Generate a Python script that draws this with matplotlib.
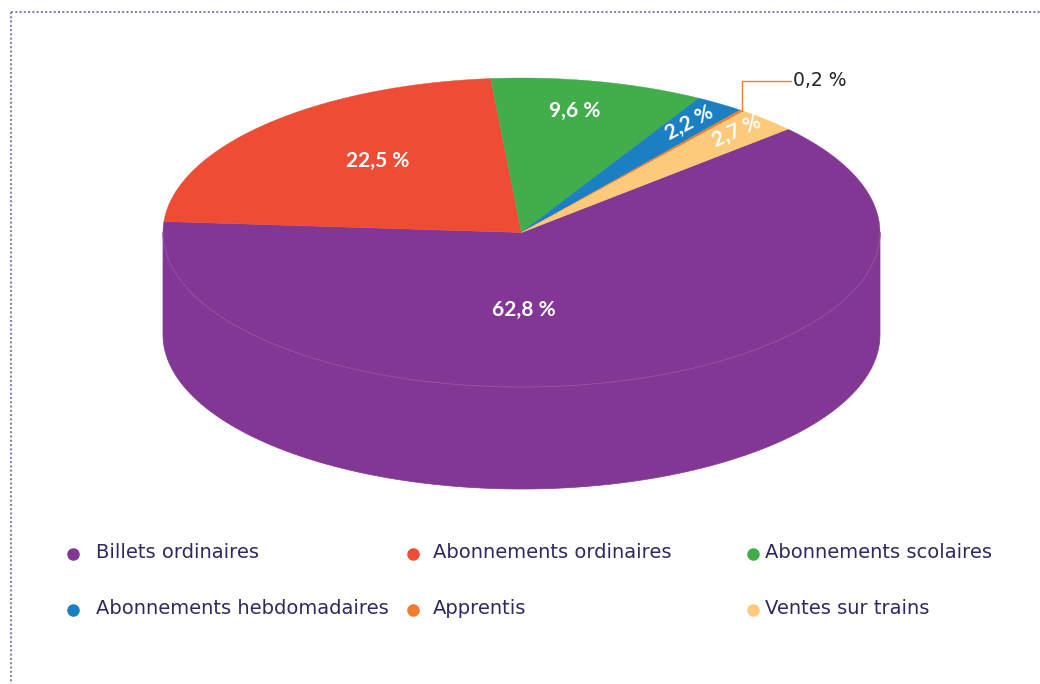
import numpy as np
import matplotlib as mpl
mpl.use('Agg')
import matplotlib.pyplot as plt
from matplotlib.patches import Polygon

categories = ['Billets ordinaires', 'Abonnements ordinaires', 'Abonnements scolaires',
              'Abonnements hebdomadaires', 'Apprentis', 'Ventes sur trains']
values = [62.8, 22.5, 9.6, 2.2, 0.2, 2.7]
value_labels = ['62,8 %', '22,5 %', '9,6 %', '2,2 %', '0,2 %', '2,7 %']
colors = ['#833794', '#EF4C35', '#42AD4B', '#1A80C3', '#F37B2D', '#FDCA7C']

# pie geometry (pixel space)
cx, cy = 521.5, 232.5
rx, ry = 358.5, 154.5
depth = 102
start = 42.0

fig = plt.figure(figsize=(10.4, 6.84), dpi=100)
ax = fig.add_axes([0, 0, 1, 1])
ax.set_xlim(0, 1040)
ax.set_ylim(684, 0)
ax.axis('off')

def arc(a1, a2, dy=0, n=200):
    t = np.radians(np.linspace(a1, a2, n))
    return np.column_stack([cx + rx * np.cos(t), cy + dy - ry * np.sin(t)])

fracs = np.array(values) / sum(values)
edges = start - 360 * np.concatenate([[0], np.cumsum(fracs)])

# side walls (front half only)
for i, c in enumerate(colors):
    hi, lo = edges[i], edges[i + 1]
    for k in (-1, 0, 1):
        a = max(lo, -180 + 360 * k)
        b = min(hi, 0 + 360 * k)
        if b > a:
            top = arc(a, b)
            bot = arc(b, a, dy=depth)
            ax.add_patch(Polygon(np.vstack([top, bot]), closed=True,
                                 facecolor=c, edgecolor=c, lw=0.5, zorder=1))

# top faces
for i, c in enumerate(colors):
    hi, lo = edges[i], edges[i + 1]
    pts = np.vstack([[cx, cy], arc(hi, lo)])
    ax.add_patch(Polygon(pts, closed=True, facecolor=c, edgecolor=c,
                         lw=0.3, zorder=2))

# faint rim line between top and side
rim = arc(-180, 0)
ax.plot(rim[:, 0], rim[:, 1], color='#9a66aa', lw=0.6, alpha=0.6, zorder=3)

# labels inside slices
label_pos = [(524, 310, 0), (378, 161, 0), (575, 111, 0), (689, 123, 28), None, (737, 131, 24)]
for lab, pos in zip(value_labels, label_pos):
    if pos is None:
        continue
    ax.text(pos[0], pos[1], lab, color='white', fontsize=15, fontweight='bold',
            family='Lato', ha='center', va='center', rotation=pos[2], zorder=4)

# leader for the tiny slice
mid = np.radians((edges[4] + edges[5]) / 2)
px, py = cx + rx * np.cos(mid), cy - ry * np.sin(mid)
ax.plot([px, px, 791], [py, 81, 81], color='#F37B2D', lw=1, zorder=4)
ax.text(793, 80, value_labels[4], color='#222222', fontsize=13.5, family='DejaVu Sans',
        ha='left', va='center', zorder=4)

# legend
leg_pos = [(73, 554), (413, 554), (753, 554), (73, 610), (413, 610), (753, 610)]
txt_dx = [23, 20, 12, 23, 20, 12]
for (lx, ly), dx, c, name in zip(leg_pos, txt_dx, colors, categories):
    ax.plot(lx, ly, 'o', color=c, markersize=8, zorder=4)
    ax.text(lx + dx, ly - 2, name, color='#2E2A61', fontsize=14, family='DejaVu Sans',
            ha='left', va='center')

# dotted frame
ax.plot([11, 1040], [12, 12], color='#7C7CA6', lw=1.4, ls=(0, (1, 1.2)))
ax.plot([11, 11], [12, 684], color='#7C7CA6', lw=1.4, ls=(0, (1, 1.2)))

plt.savefig('out.png')
